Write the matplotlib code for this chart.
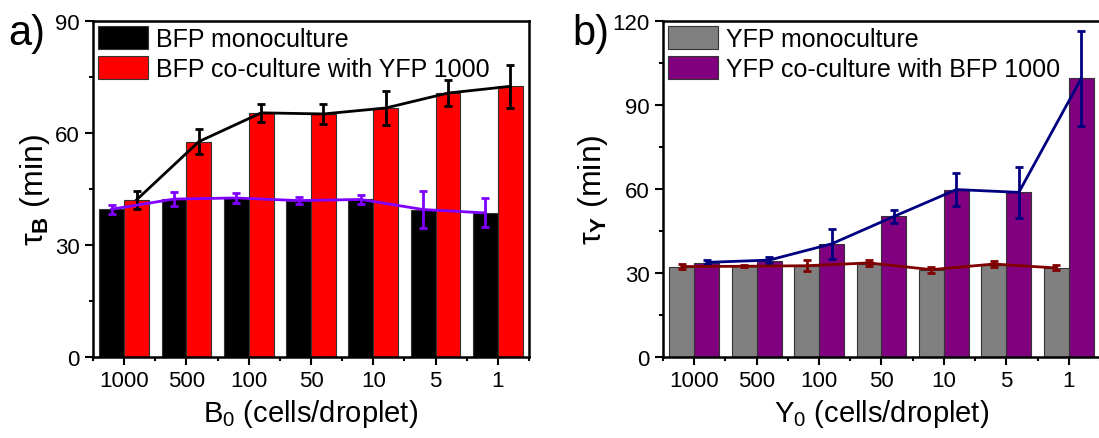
import numpy as np
import matplotlib
matplotlib.use("Agg")
import matplotlib.pyplot as plt

plt.rcParams['font.family'] = ['Liberation Sans', 'DejaVu Sans']
plt.rcParams['mathtext.fontset'] = 'custom'
plt.rcParams['mathtext.rm'] = 'Liberation Sans'
plt.rcParams['mathtext.it'] = 'Liberation Sans'
plt.rcParams['mathtext.bf'] = 'Liberation Sans:bold'

# x categories (cells/droplet)
labels = ['1000', '500', '100', '50', '10', '5', '1']

# panel a: BFP
bfp_mono = [39.6, 42.3, 42.6, 41.9, 42.2, 39.5, 38.6]
bfp_mono_err = [1.2, 1.9, 1.25, 1.0, 1.2, 5.0, 3.9]
bfp_co = [42.1, 57.7, 65.4, 65.1, 66.7, 70.7, 72.5]
bfp_co_err = [2.4, 3.4, 2.5, 2.6, 4.6, 3.4, 5.8]

# panel b: YFP
yfp_mono = [32.3, 32.6, 32.6, 33.2, 31.1, 33.0, 31.8]
yfp_mono_line = [32.3, 32.4, 32.6, 33.6, 31.2, 33.2, 31.8]
yfp_mono_err = [0.8, 0.3, 2.0, 1.2, 1.1, 1.2, 0.9]
yfp_co = [33.5, 34.4, 40.5, 50.2, 59.8, 58.8, 99.5]
yfp_co_line = [33.8, 34.6, 40.4, 50.2, 59.8, 58.8, 99.5]
yfp_co_err = [0.7, 1.0, 5.4, 2.3, 5.8, 9.2, 17.0]

W, H = 1099, 439
fig = plt.figure(figsize=(W / 100, H / 100), dpi=100)
axa = fig.add_axes([93 / W, (H - 358) / H, 436 / W, 336 / H])
axb = fig.add_axes([663 / W, (H - 358) / H, 437 / W, 336 / H])

x = np.arange(len(labels))
bw = 0.4


def panel(ax, mono, co, mono_line, mono_err, co_line, co_err,
          c_mono, c_co, c_lmono, c_lco, lab_mono, lab_co, ymax, ystep):
    ax.bar(x - bw / 2, mono, bw, color=c_mono, edgecolor='#333333', lw=0.8,
           label=lab_mono, zorder=2)
    ax.bar(x + bw / 2, co, bw, color=c_co, edgecolor='#333333', lw=0.8,
           label=lab_co, zorder=2)
    ax.errorbar(x - bw / 2, mono_line, yerr=mono_err, color=c_lmono, lw=2,
                elinewidth=2, capsize=3, capthick=2, zorder=3)
    ax.errorbar(x + bw / 2, co_line, yerr=co_err, color=c_lco, lw=2,
                elinewidth=2, capsize=3, capthick=2, zorder=3)
    ax.set_xlim(-0.5, 6.5)
    ax.set_ylim(0, ymax)
    ax.set_yticks(np.arange(0, ymax + 1, ystep))
    ax.set_yticks(np.arange(ystep / 2, ymax, ystep), minor=True)
    ax.set_xticks(x)
    ax.set_xticklabels(labels)
    ax.set_xticks(np.arange(-0.5, 7, 1), minor=True)
    ax.tick_params(axis='both', which='major', direction='out', length=6,
                   width=1.5, labelsize=16)
    ax.tick_params(axis='both', which='minor', direction='out', length=3,
                   width=1.5)
    for s in ax.spines.values():
        s.set_linewidth(1.8)
    ax.legend(loc='upper left', frameon=False, fontsize=18, handlelength=2.0,
              handleheight=1.05, handletextpad=0.3, labelspacing=0.2,
              borderaxespad=0.1, borderpad=0.1)


panel(axa, bfp_mono, bfp_co, bfp_mono, bfp_mono_err, bfp_co, bfp_co_err,
      'black', '#ff0000', '#8000ff', 'black',
      'BFP monoculture', 'BFP co-culture with YFP 1000', 90, 30)
panel(axb, yfp_mono, yfp_co, yfp_mono_line, yfp_mono_err, yfp_co_line,
      yfp_co_err, '#808080', '#800080', '#800000', '#000080',
      'YFP monoculture', 'YFP co-culture with BFP 1000', 120, 30)

axa.set_xlabel(r'B$_0$ (cells/droplet)', fontsize=21, labelpad=4)
axb.set_xlabel(r'Y$_0$ (cells/droplet)', fontsize=21, labelpad=4)
axa.set_ylabel(r'$\mathrm{\tau}_\mathbf{B}$ (min)', fontsize=23, labelpad=2)
axb.set_ylabel(r'$\mathrm{\tau}_\mathbf{Y}$ (min)', fontsize=23, labelpad=2)

fig.text(8 / W, 1 - 45 / H, 'a)', fontsize=30)
fig.text(572 / W, 1 - 45 / H, 'b)', fontsize=30)

fig.savefig('out.png', dpi=100)
